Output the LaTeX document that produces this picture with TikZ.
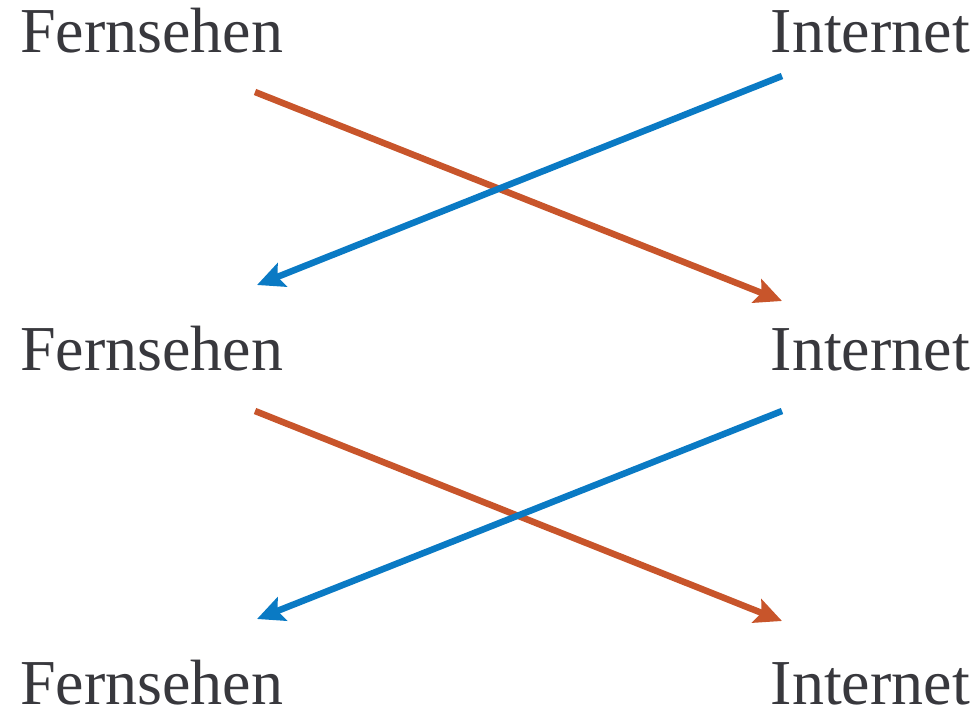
\documentclass[tikz,border=0pt]{standalone}
\usepackage{fontspec}
\setmainfont{Liberation Serif}
\usetikzlibrary{arrows.meta}
\definecolor{txt}{HTML}{38383D}
\definecolor{redc}{HTML}{C8552B}
\definecolor{bluec}{HTML}{0A7AC4}
\tikzset{
  lbl/.style={inner sep=0pt, text=txt, font=\fontsize{64}{64}\selectfont},
  conn/.style={line width=6.5pt, -{Stealth[length=27pt,width=25pt,inset=5pt]}},
  redarr/.style={conn, draw=redc, fill=redc},
  bluearr/.style={conn, draw=bluec, fill=bluec},
}
\begin{document}
\begin{tikzpicture}[x=1pt,y=-1pt]
\useasboundingbox (0,0) rectangle (980,712);
\node[lbl, anchor=base west] (f1) at (20,52) {Fernsehen};
\node[lbl, anchor=base east] (i1) at (970,52) {Internet};
\node[lbl, anchor=base west] (f2) at (20,370) {Fernsehen};
\node[lbl, anchor=base east] (i2) at (970,370) {Internet};
\node[lbl, anchor=base west] (f3) at (20,704) {Fernsehen};
\node[lbl, anchor=base east] (i3) at (970,704) {Internet};
\coordinate (r1s) at (255,92);
\coordinate (r1e) at (782,301);
\coordinate (b1s) at (782,76);
\coordinate (b1e) at (257,285);
\coordinate (r2s) at (255,411);
\coordinate (r2e) at (782,621);
\coordinate (b2s) at (782,411);
\coordinate (b2e) at (257,619);
\draw[redarr] (r1s) -- (r1e);
\draw[bluearr] (b1s) -- (b1e);
\draw[redarr] (r2s) -- (r2e);
\draw[bluearr] (b2s) -- (b2e);
\end{tikzpicture}
\end{document}
